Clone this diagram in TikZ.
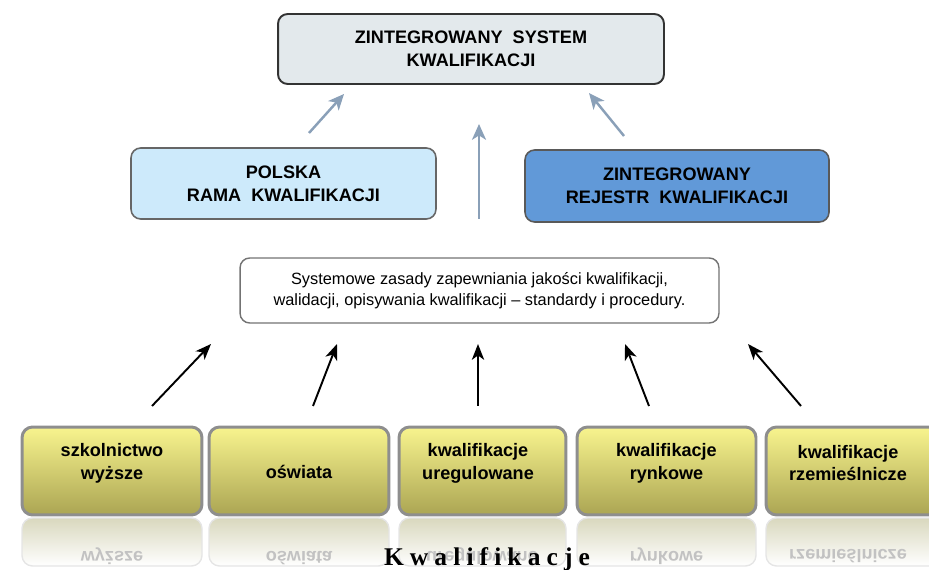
\documentclass[tikz,border=0pt]{standalone}
\usepackage{fontspec}
\setmainfont{Liberation Sans}
\newfontfamily\kwfont[LetterSpace=24]{Liberation Serif}
\usetikzlibrary{arrows.meta}
\definecolor{topfill}{HTML}{E3E9EC}
\definecolor{prkfill}{HTML}{CDEAFB}
\definecolor{zrkfill}{HTML}{6199D8}
\definecolor{upline}{HTML}{8AA0B8}
\definecolor{ytop}{HTML}{F8F48E}
\definecolor{ybot}{HTML}{ABA553}
\definecolor{yline}{HTML}{8E8E8E}
\definecolor{refltop}{HTML}{D9D8BE}

\begin{document}
\begin{tikzpicture}[x=0.02cm, y=-0.02cm,
  bigbox/.style={rounded corners=5.5pt, align=center, inner sep=0pt,
    font=\fontsize{10.3}{13}\selectfont\bfseries},
  rulebox/.style={draw=black!55, line width=0.8pt, rounded corners=5.5pt, fill=white,
    minimum width=9.58cm, minimum height=1.3cm, align=center,
    font=\fontsize{9.3}{11.6}\selectfont},
  ybox/.style={draw=yline, line width=1.7pt, rounded corners=6pt,
    top color=ytop, bottom color=ybot, minimum height=1.76cm, inner sep=0pt},
  ytext/.style={align=center, font=\fontsize{10.3}{13}\selectfont\bfseries},
  refl/.style={top color=refltop, bottom color=white, draw=black!10, line width=0.8pt, rounded corners=6pt},
  refltext/.style={yscale=-1, text=black!24, font=\fontsize{10.3}{13}\selectfont\bfseries},
  uparrow/.style={upline, line width=1.4pt, -{Stealth[length=9pt, width=8pt, inset=2.5pt]}},
  blkarrow/.style={black, line width=1.1pt, -{Stealth[length=9pt, width=7pt, inset=2.5pt]}}]

  \useasboundingbox (0,0) rectangle (929,570);

  \node[bigbox, draw=black!80, line width=1.1pt, fill=topfill, minimum width=7.72cm, minimum height=1.4cm]
    (zsk) at (471,49) {ZINTEGROWANY\ \ SYSTEM\\KWALIFIKACJI};
  \node[bigbox, draw=black!60, line width=0.9pt, fill=prkfill, minimum width=6.1cm, minimum height=1.42cm]
    (prk) at (283.5,183.5) {POLSKA\\RAMA\ \ KWALIFIKACJI};
  \node[bigbox, draw=black!65, line width=0.9pt, fill=zrkfill, minimum width=6.08cm, minimum height=1.44cm]
    (zrk) at (677,186) {ZINTEGROWANY\\REJESTR\ \ KWALIFIKACJI};

  \node[rulebox] (zasady) at (479.5,290.5)
    {Systemowe zasady zapewniania jakości kwalifikacji,\\walidacji, opisywania kwalifikacji -- standardy i procedury.};

  \coordinate (u1s) at (309,133);
  \coordinate (u1e) at (344,94);
  \coordinate (u2s) at (479,219);
  \coordinate (u2e) at (479,124);
  \coordinate (u3s) at (624,136);
  \coordinate (u3e) at (589,93);
  \draw[uparrow] (u1s) -- (u1e);
  \draw[uparrow] (u2s) -- (u2e);
  \draw[uparrow] (u3s) -- (u3e);

  % reflections
  \shade[refl] (22,518) rectangle (202,566);
  \shade[refl] (209,518) rectangle (389,566);
  \shade[refl] (399,518) rectangle (566,566);
  \shade[refl] (577,518) rectangle (756,566);
  \shade[refl] (766,518) rectangle (946,566);
  \node[refltext] (r1) at (112,556) {wyższe};
  \node[refltext] (r2) at (299,558) {oświata};
  \node[refltext] (r3) at (482,556) {uregulowane};
  \node[refltext] (r4) at (666.5,556) {rynkowe};
  \node[refltext] (r5) at (848,556) {rzemieślnicze};

  \node[ybox, minimum width=3.6cm] (b1) at (112,471) {};
  \node[ybox, minimum width=3.6cm] (b2) at (299,471) {};
  \node[ybox, minimum width=3.34cm] (b3) at (482.5,471) {};
  \node[ybox, minimum width=3.58cm] (b4) at (666.5,471) {};
  \node[ybox, minimum width=3.6cm] (b5) at (856,471) {};
  \node[ytext] (t1) at (112,463) {szkolnictwo\\wyższe};
  \node[ytext] (t2) at (299,472) {oświata};
  \node[ytext] (t3) at (478,463) {kwalifikacje\\uregulowane};
  \node[ytext] (t4) at (666.5,463) {kwalifikacje\\rynkowe};
  \node[ytext] (t5) at (848,463) {kwalifikacje\\rzemieślnicze};

  \coordinate (d1s) at (152,406);
  \coordinate (d1e) at (211,344);
  \coordinate (d2s) at (313,406);
  \coordinate (d2e) at (337,344);
  \coordinate (d3s) at (478,406);
  \coordinate (d3e) at (478,344);
  \coordinate (d4s) at (649,406);
  \coordinate (d4e) at (625,344);
  \coordinate (d5s) at (801,406);
  \coordinate (d5e) at (748,344);
  \draw[blkarrow] (d1s) -- (d1e);
  \draw[blkarrow] (d2s) -- (d2e);
  \draw[blkarrow] (d3s) -- (d3e);
  \draw[blkarrow] (d4s) -- (d4e);
  \draw[blkarrow] (d5s) -- (d5e);

  \node[anchor=base, font=\kwfont\bfseries\fontsize{14.5}{16}\selectfont] (kw) at (487,565) {Kwalifikacje};
\end{tikzpicture}
\end{document}
